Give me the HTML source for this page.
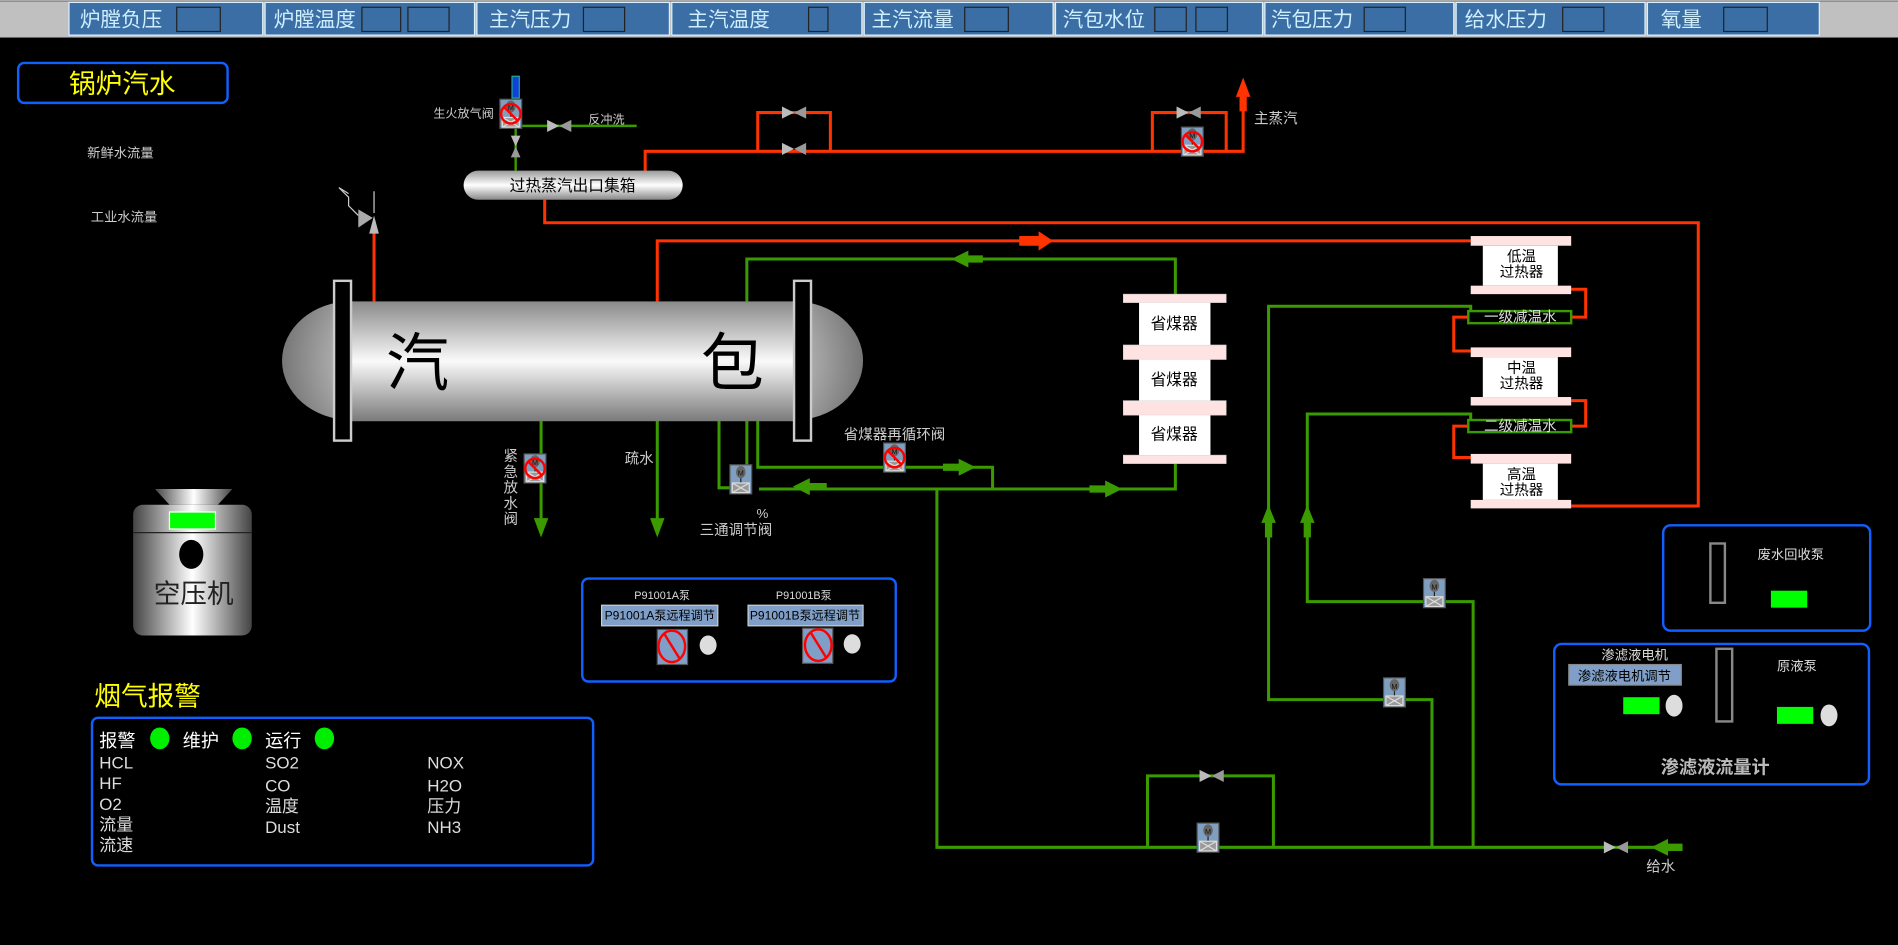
<!DOCTYPE html>
<html><head><meta charset="utf-8">
<style>
html,body{margin:0;padding:0;background:#000;width:1898px;height:945px;overflow:hidden}
svg{display:block}
text{font-family:"Liberation Sans","Noto Sans CJK SC",sans-serif}
</style></head><body>
<svg width="1898" height="945" viewBox="0 0 1568 780.7" preserveAspectRatio="none" xmlns="http://www.w3.org/2000/svg">
<defs>
<linearGradient id="drum" x1="0" y1="0" x2="0" y2="1">
<stop offset="0" stop-color="#8a8a8a"/><stop offset="0.5" stop-color="#fafafa"/><stop offset="1" stop-color="#7a7a7a"/></linearGradient>
<radialGradient id="capL" cx="1" cy="0.5" r="1"><stop offset="0" stop-color="#fff"/><stop offset="1" stop-color="#777"/></radialGradient>
<linearGradient id="hdr" x1="0" y1="0" x2="0" y2="1"><stop offset="0" stop-color="#999"/><stop offset="0.5" stop-color="#fff"/><stop offset="1" stop-color="#888"/></linearGradient>
<linearGradient id="comp" x1="0" y1="0" x2="1" y2="0"><stop offset="0" stop-color="#444"/><stop offset="0.5" stop-color="#fff"/><stop offset="1" stop-color="#444"/></linearGradient>
<g id="mv"><rect x="-9" y="-12" width="18" height="24" fill="#7f9fc0" stroke="#555"/><ellipse cx="0" cy="-6" rx="4" ry="5" fill="#666"/><text x="0" y="-3" font-size="6" text-anchor="middle" fill="#111">M</text><line x1="0" y1="-1" x2="0" y2="3" stroke="#222"/><rect x="-7" y="3" width="14" height="8" fill="#999" stroke="#ddd"/><path d="M-7 3L7 11M7 3L-7 11" stroke="#ddd"/></g>
<g id="mvx"><use href="#mv"/><circle cx="0" cy="0" r="8" fill="none" stroke="#f00" stroke-width="2"/><line x1="-6" y1="-6" x2="6" y2="6" stroke="#f00" stroke-width="2"/></g>
<g id="bv"><path d="M-10 -5L0 0L-10 5Z" fill="#bbb"/><path d="M10 -5L0 0L10 5Z" fill="#999"/></g>
<g id="bvv"><path d="M-4 -9L0 0L4 -9Z" fill="#bbb"/><path d="M-4 9L0 0L4 9Z" fill="#999"/></g>
</defs>
<rect width="1568" height="781" fill="#000"/>
<!-- top bar -->
<rect x="0" y="0" width="1568" height="31" fill="#c0c0c0"/>
<line x1="0" y1="1" x2="1568" y2="1" stroke="#888"/>
<g fill="#3a6ea5" stroke="#d8f0ff" stroke-width="1">
<rect x="57" y="2" width="160" height="27"/><rect x="219" y="2" width="173" height="27"/><rect x="394" y="2" width="159" height="27"/><rect x="555" y="2" width="157" height="27"/><rect x="714" y="2" width="156" height="27"/><rect x="872" y="2" width="171" height="27"/><rect x="1045" y="2" width="156" height="27"/><rect x="1203" y="2" width="156" height="27"/><rect x="1361" y="2" width="142" height="27"/></g>
<g fill="#3a6ea5" stroke="#222" stroke-width="1">
<rect x="146" y="6" width="36" height="20"/><rect x="299" y="6" width="32" height="20"/><rect x="337" y="6" width="34" height="20"/><rect x="482" y="6" width="34" height="20"/><rect x="668" y="6" width="16" height="20"/><rect x="797" y="6" width="36" height="20"/><rect x="954" y="6" width="26" height="20"/><rect x="988" y="6" width="26" height="20"/><rect x="1127" y="6" width="34" height="20"/><rect x="1291" y="6" width="34" height="20"/><rect x="1424" y="6" width="36" height="20"/></g>
<g fill="#cfefff" font-size="17">
<text x="66" y="22">炉膛负压</text><text x="226" y="22">炉膛温度</text><text x="404" y="22">主汽压力</text><text x="568" y="22">主汽温度</text><text x="720" y="22">主汽流量</text><text x="878" y="22">汽包水位</text><text x="1050" y="22">汽包压力</text><text x="1210" y="22">给水压力</text><text x="1372" y="22">氧量</text></g>
<!-- title -->
<rect x="15" y="52" width="173" height="33" rx="5" fill="none" stroke="#1060ff" stroke-width="2"/>
<text x="101" y="77" font-size="22" fill="#ffff00" text-anchor="middle">锅炉汽水</text>
<text x="72" y="130" font-size="11" fill="#ccc">新鲜水流量</text>
<text x="75" y="183" font-size="11" fill="#ccc">工业水流量</text>
<!-- red pipes -->
<g fill="none" stroke="#ff3300" stroke-width="2.5">
<path d="M309 249V192"/>
<path d="M543 249V199H1215"/>
<path d="M450 165V184H1403V418H1298"/>
<path d="M533 142V125H1027V75"/>
<path d="M626 125V93H686V125"/>
<path d="M952 125V93H1013V125"/>
<path d="M1298 239H1310V262H1298"/>
<path d="M1213 262H1201V290H1215"/>
<path d="M1298 331H1310V352H1298"/>
<path d="M1213 352H1201V378H1215"/>
</g>
<path d="M1021 80L1027 64L1033 80Z" fill="#ff3300"/><rect x="1024" y="78" width="6" height="14" fill="#ff3300"/>
<path d="M842 195H858V191L870 199L858 207V203H842Z" fill="#ff3300"/>
<text x="1036" y="102" font-size="12" fill="#ccc">主蒸汽</text>
<use href="#bv" x="656" y="93"/><use href="#bv" x="656" y="123"/><use href="#bv" x="982" y="93"/>
<use href="#mvx" x="985" y="117"/>
<!-- header -->
<rect x="383" y="141" width="181" height="24" rx="12" fill="url(#hdr)"/>
<text x="473" y="158" font-size="13" fill="#000" text-anchor="middle">过热蒸汽出口集箱</text>
<!-- vent valve -->
<line x1="426" y1="90" x2="426" y2="141" stroke="#3a9a00" stroke-width="2"/>
<line x1="426" y1="104" x2="526" y2="104" stroke="#3a9a00" stroke-width="2"/>
<rect x="423" y="63" width="6" height="18" fill="#1040e0" stroke="#2a8"/>
<use href="#mvx" x="422" y="94"/><use href="#bv" x="462" y="104"/><use href="#bvv" x="426" y="121"/>
<text x="358" y="97" font-size="10" fill="#ccc">生火放气阀</text>
<text x="486" y="102" font-size="10" fill="#ccc">反冲洗</text>
<!-- safety valve -->
<path d="M280 155L288 163V170L296 178" fill="none" stroke="#ccc"/><path d="M280 155L288 160" stroke="#ccc"/>
<path d="M296 173L308 180L296 188Z" fill="#aaa"/><path d="M305 193L309 178L313 193Z" fill="#bbb"/><line x1="309" y1="158" x2="309" y2="176" stroke="#ccc"/>
<!-- green pipes -->
<g fill="none" stroke="#3a9a00" stroke-width="2.5">
<path d="M617 249V214H971V243"/>
<path d="M971 383V404H627"/>
<path d="M594 347V403H612"/>
<path d="M617 347V384"/>
<path d="M626 347V386H820V404"/>
<path d="M774 404V700H1378"/>
<path d="M948 700V641H1052V700"/>
<path d="M1183 700V578H1048V253H1215V257"/>
<path d="M1217 700V497H1080V342H1215V347"/>
<path d="M447 347V432"/><path d="M543 347V432"/>
</g>
<g fill="#3a9a00">
<path d="M786 214L800 207V211H812V217H800V221Z"/>
<path d="M655 402L669 395V399H683V405H669V409Z"/>
<path d="M927 404L913 397V401H900V407H913V411Z"/>
<path d="M806 386L792 379V383H779V389H792V393Z"/>
<path d="M1364 700L1378 693V697H1390V703H1378V707Z"/>
<path d="M1042 432L1048 417L1054 432H1051V444H1045V432Z"/>
<path d="M1074 432L1080 417L1086 432H1083V444H1077V432Z"/>
<path d="M441 428L447 444L453 428Z"/><path d="M537 428L543 444L549 428Z"/>
</g>
<use href="#bv" x="1001" y="641"/><use href="#bv" x="1335" y="700"/>
<use href="#mv" x="998" y="692"/><use href="#mv" x="1152" y="572"/><use href="#mv" x="1185" y="490"/><use href="#mv" x="612" y="396"/>
<use href="#mvx" x="739" y="378"/><use href="#mvx" x="442" y="387"/>
<text x="1360" y="720" font-size="12" fill="#ccc">给水</text>
<text x="697" y="363" font-size="12" fill="#ccc">省煤器再循环阀</text>
<text x="516" y="383" font-size="12" fill="#ccc">疏水</text>
<text x="625" y="428" font-size="11" fill="#ccc">%</text>
<text x="578" y="442" font-size="12" fill="#ccc">三通调节阀</text>
<g font-size="12" fill="#ccc" text-anchor="middle"><text x="422" y="381">紧</text><text x="422" y="394">急</text><text x="422" y="407">放</text><text x="422" y="420">水</text><text x="422" y="433">阀</text></g>
<!-- drum -->
<ellipse cx="290" cy="298" rx="57" ry="49" fill="url(#capL)"/>
<ellipse cx="656" cy="298" rx="57" ry="49" fill="url(#capL)" transform="rotate(180 656 298)"/>
<rect x="285" y="249" width="375" height="99" fill="url(#drum)"/>
<rect x="276" y="232" width="14" height="132" fill="#000" stroke="#ccc" stroke-width="2"/>
<rect x="656" y="232" width="14" height="132" fill="#000" stroke="#ccc" stroke-width="2"/>
<text x="345" y="318" font-size="52" fill="#000" text-anchor="middle" font-family="Noto Serif CJK SC,serif">汽</text>
<text x="605" y="318" font-size="52" fill="#000" text-anchor="middle" font-family="Noto Serif CJK SC,serif">包</text>
<!-- economizers -->
<g fill="#ffe2e2" stroke="#ccc" stroke-width="0.5">
<rect x="928" y="243" width="85" height="7"/><rect x="928" y="285" width="85" height="12"/><rect x="928" y="331" width="85" height="12"/><rect x="928" y="376" width="85" height="7"/></g>
<g fill="#fff"><rect x="941" y="250" width="59" height="35"/><rect x="941" y="297" width="59" height="34"/><rect x="941" y="343" width="59" height="33"/></g>
<g font-size="13" fill="#000" text-anchor="middle"><text x="970" y="272">省煤器</text><text x="970" y="318">省煤器</text><text x="970" y="363">省煤器</text></g>
<!-- superheaters -->
<g fill="#ffe2e2"><rect x="1215" y="195" width="83" height="8"/><rect x="1215" y="236" width="83" height="7"/><rect x="1215" y="287" width="83" height="8"/><rect x="1215" y="328" width="83" height="7"/><rect x="1215" y="375" width="83" height="8"/><rect x="1215" y="413" width="83" height="7"/></g>
<g fill="#fff"><rect x="1225" y="203" width="62" height="33"/><rect x="1225" y="295" width="62" height="33"/><rect x="1225" y="383" width="62" height="30"/></g>
<g font-size="12" fill="#000" text-anchor="middle"><text x="1257" y="216">低温</text><text x="1257" y="229">过热器</text><text x="1257" y="308">中温</text><text x="1257" y="321">过热器</text><text x="1257" y="396">高温</text><text x="1257" y="409">过热器</text></g>
<rect x="1213" y="257" width="85" height="10" fill="#000" stroke="#3a9a00" stroke-width="2"/>
<rect x="1213" y="347" width="85" height="10" fill="#000" stroke="#3a9a00" stroke-width="2"/>
<g font-size="12" fill="#ddd" text-anchor="middle"><text x="1256" y="266">一级减温水</text><text x="1256" y="356">二级减温水</text></g>
<!-- compressor -->
<path d="M128 404H192L180 417H140Z" fill="url(#comp)"/>
<rect x="110" y="417" width="98" height="108" rx="8" fill="url(#comp)"/>
<line x1="110" y1="440" x2="208" y2="440" stroke="#222"/>
<rect x="140" y="423" width="38" height="14" fill="#00ff00" stroke="#fff"/>
<ellipse cx="158" cy="458" rx="10" ry="12" fill="#000"/>
<text x="160" y="498" font-size="22" fill="#222" text-anchor="middle">空压机</text>
<!-- flue gas alarm -->
<text x="78" y="583" font-size="22" fill="#ffff00">烟气报警</text>
<rect x="76" y="593" width="414" height="122" rx="5" fill="none" stroke="#1060ff" stroke-width="2"/>
<g font-size="15" fill="#fff"><text x="82" y="617">报警</text><text x="151" y="617">维护</text><text x="219" y="617">运行</text></g>
<g fill="#00ee00"><ellipse cx="132" cy="610" rx="8" ry="9"/><ellipse cx="200" cy="610" rx="8" ry="9"/><ellipse cx="268" cy="610" rx="8" ry="9"/></g>
<g font-size="14" fill="#ddd" font-family="Liberation Serif,Noto Serif CJK SC,serif">
<text x="82" y="635">HCL</text><text x="219" y="635">SO2</text><text x="353" y="635">NOX</text>
<text x="82" y="652">HF</text><text x="219" y="654">CO</text><text x="353" y="654">H2O</text>
<text x="82" y="669">O2</text><text x="219" y="671">温度</text><text x="353" y="671">压力</text>
<text x="82" y="686">流量</text><text x="219" y="688">Dust</text><text x="353" y="688">NH3</text>
<text x="82" y="703">流速</text></g>
<!-- pump panel -->
<rect x="481" y="478" width="259" height="85" rx="5" fill="none" stroke="#1060ff" stroke-width="2"/>
<g font-size="9" fill="#ddd" text-anchor="middle"><text x="547" y="495">P91001A泵</text><text x="664" y="495">P91001B泵</text></g>
<rect x="497" y="500" width="96" height="17" fill="#7f9fc8" stroke="#ccc"/><rect x="618" y="500" width="95" height="17" fill="#7f9fc8" stroke="#ccc"/>
<g font-size="10" fill="#000" text-anchor="middle"><text x="545" y="512">P91001A泵远程调节</text><text x="665" y="512">P91001B泵远程调节</text></g>
<rect x="543" y="520" width="25" height="29" fill="#7f9fc8" stroke="#555"/><rect x="663" y="519" width="25" height="29" fill="#7f9fc8" stroke="#555"/>
<g fill="none" stroke="#f00" stroke-width="2"><ellipse cx="555" cy="534" rx="11" ry="13"/><line x1="549" y1="524" x2="562" y2="545"/><ellipse cx="676" cy="533" rx="11" ry="13"/><line x1="670" y1="523" x2="683" y2="544"/></g>
<ellipse cx="585" cy="533" rx="7" ry="8" fill="#ddd"/><ellipse cx="704" cy="532" rx="7" ry="8" fill="#ddd"/>
<!-- right panels -->
<rect x="1374" y="434" width="171" height="87" rx="6" fill="none" stroke="#1060ff" stroke-width="2"/>
<rect x="1413" y="449" width="12" height="49" fill="none" stroke="#888" stroke-width="2"/>
<text x="1452" y="462" font-size="11" fill="#ddd">废水回收泵</text>
<rect x="1463" y="488" width="30" height="14" fill="#00ff00"/>
<rect x="1284" y="532" width="260" height="116" rx="6" fill="none" stroke="#1060ff" stroke-width="2"/>
<text x="1323" y="545" font-size="11" fill="#ddd">渗滤液电机</text>
<rect x="1296" y="549" width="93" height="17" fill="#7f9fc8" stroke="#888"/>
<text x="1342" y="562" font-size="11" fill="#000" text-anchor="middle">渗滤液电机调节</text>
<rect x="1341" y="576" width="30" height="14" fill="#00ff00"/><ellipse cx="1383" cy="583" rx="7" ry="9" fill="#ddd"/>
<rect x="1418" y="536" width="13" height="60" fill="none" stroke="#888" stroke-width="2"/>
<text x="1468" y="554" font-size="11" fill="#ddd">原液泵</text>
<rect x="1468" y="584" width="30" height="14" fill="#00ff00"/><ellipse cx="1511" cy="591" rx="7" ry="9" fill="#ddd"/>
<text x="1417" y="639" font-size="15" font-weight="bold" fill="#bbb" text-anchor="middle">渗滤液流量计</text>
</svg>
</body></html>
